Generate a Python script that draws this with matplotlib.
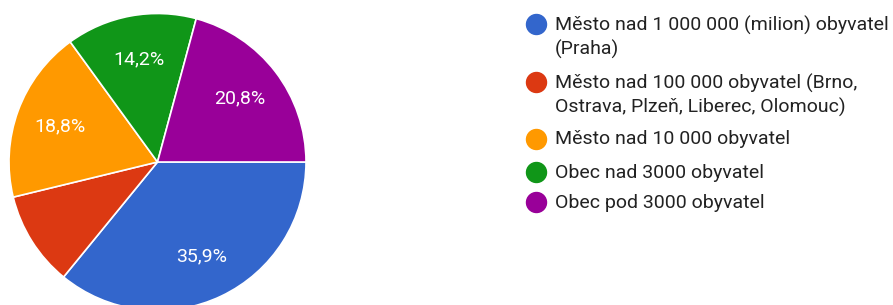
import matplotlib.pyplot as plt
from matplotlib.lines import Line2D

# Data
labels = [
    "Město nad 1 000 000 (milion) obyvatel\n(Praha)",
    "Město nad 100 000 obyvatel (Brno,\nOstrava, Plzeň, Liberec, Olomouc)",
    "Město nad 10 000 obyvatel",
    "Obec nad 3000 obyvatel",
    "Obec pod 3000 obyvatel",
]
shares = [35.9, 10.3, 18.8, 14.2, 20.8]
colors = ["#3366cc", "#dc3912", "#ff9900", "#109618", "#990099"]

plt.rcParams["font.family"] = ["Roboto", "DejaVu Sans"]

W, H = 893, 305
fig = plt.figure(figsize=(W / 100, H / 100), dpi=100)

# pie: centre ~ (157.5, 162) px, radius ~148.5 px
cx, cy, r = 157.5, 162, 148.5
ax = fig.add_axes([(cx - r) / W, (H - cy - r) / H, 2 * r / W, 2 * r / H])


def fmt(p):
    if p < 12:
        return ""
    return ("%.1f%%" % p).replace(".", ",")


wedges, texts, autotexts = ax.pie(
    shares, colors=colors, startangle=0, counterclock=False,
    autopct=fmt, pctdistance=0.7,
    wedgeprops=dict(edgecolor="white", linewidth=1.2),
    textprops=dict(color="white", fontsize=14),
)
ax.set_xlim(-1, 1)
ax.set_ylim(-1, 1)
ax.set_aspect("equal")
ax.axis("off")

# legend drawn by hand
row_y = [24, 82, 139, 172, 202]
for lab, col, y in zip(labels, colors, row_y):
    fig.add_artist(Line2D([536 / W], [1 - y / H], marker="o", markersize=14.4,
                          color=col, linestyle="", transform=fig.transFigure))
    fig.text(555 / W, 1 - (y - 8.5) / H, lab, fontsize=14, color="#222222",
             va="top", ha="left", linespacing=1.35)

fig.savefig("out.png", dpi=100)
